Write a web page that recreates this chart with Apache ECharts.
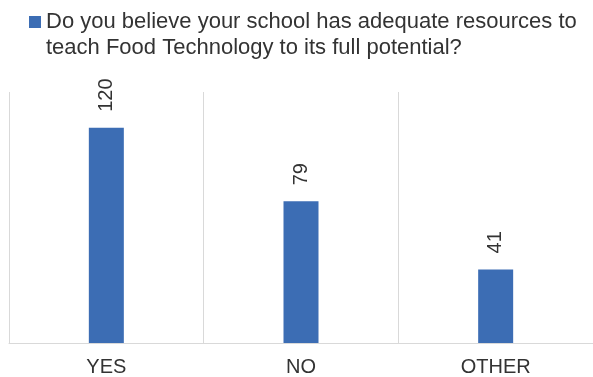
<!DOCTYPE html>
<html lang="en">
<head>
    <meta charset="UTF-8">
    <title>Food Technology resources</title>
    <style>
        html, body { margin: 0; padding: 0; background: #fff; }
        #chart { width: 593px; height: 377px; }
    </style>
</head>
<body>
    <div id="chart"></div>
</body>
<script src="https://cdn.jsdelivr.net/npm/echarts@6/dist/echarts.min.js"></script>
<script>
var categories = ['YES', 'NO', 'OTHER'];
var answers = [120, 79, 41];
var seriesName = 'Do you believe your school has adequate resources to\nteach Food Technology to its full potential?';

var chart = echarts.init(document.getElementById('chart'));
var option = {
    animation: false,
    textStyle: { fontFamily: 'Liberation Sans, Arial, sans-serif' },
    legend: {
        left: 29,
        top: -17,
        padding: 0,
        itemWidth: 12,
        itemHeight: 12,
        icon: 'rect',
        // empty first line so the square sits beside the first text line
        formatter: function (name) { return '\n' + name; },
        textStyle: { fontSize: 22, color: '#333', lineHeight: 26 },
        data: [seriesName]
    },
    grid: {
        left: 9,
        right: -1,
        top: 92,
        bottom: 34
    },
    xAxis: {
        type: 'category',
        data: categories,
        axisLine: { lineStyle: { color: '#d9d9d9', width: 1 } },
        axisTick: { show: false },
        axisLabel: { fontSize: 20, color: '#333', margin: 14 },
        splitLine: { show: true, lineStyle: { color: '#d9d9d9', width: 1 } }
    },
    yAxis: {
        type: 'value',
        min: 0,
        max: 140,
        show: false,
        splitLine: { show: false }
    },
    series: [{
        name: seriesName,
        type: 'bar',
        data: answers,
        barWidth: 35,
        itemStyle: { color: '#3c6db4' },
        label: {
            show: true,
            position: 'top',
            rotate: 90,
            align: 'left',
            verticalAlign: 'middle',
            distance: 16,
            fontSize: 20,
            color: '#333'
        }
    }]
};
chart.setOption(option);
</script>
</html>
